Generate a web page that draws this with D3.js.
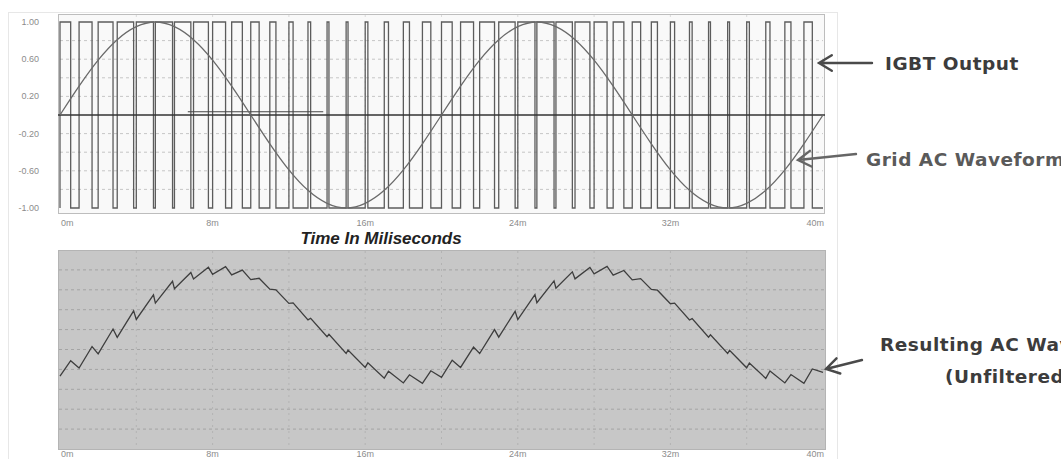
<!DOCTYPE html>
<html lang="en">
<head>
<meta charset="UTF-8">
<title>IGBT Output vs Grid AC Waveform</title>
<script src="https://cdn.jsdelivr.net/npm/d3@7"></script>
<style>
    body{ margin:0; background:#fff; }
    .ticks{ font-family:"Liberation Sans", Arial, sans-serif; font-size:9px; fill:#8c8c8c; }
    .titulo{ font-family:"Liberation Sans", Arial, sans-serif; font-weight:bold; font-style:italic; font-size:17px; fill:#222; }
    .nota{ font-family:"DejaVu Sans", Verdana, sans-serif; font-weight:bold; font-size:18.5px; fill:#3c3c3c; letter-spacing:0.5px; }
    .flecha{ stroke:#4a4a4a; stroke-width:2.4; fill:none; stroke-linecap:round; }
</style>
</head>
<body>
<div id="grafico"></div>
<script>
// ---- data ----
var tickMs = [0, 8, 16, 24, 32, 40];
var tickLabels = ["0m", "8m", "16m", "24m", "32m", "40m"];
var yTicks = [1.00, 0.60, 0.20, -0.20, -0.60, -1.00];
var yTickLabels = ["1.00", "0.60", "0.20", "-0.20", "-0.60", "-1.00"];

// grid voltage, one sample per ms (0..40)
var gridSine = [0, 0.31, 0.59, 0.81, 0.95, 1, 0.95, 0.81, 0.59, 0.31,
                0, -0.31, -0.59, -0.81, -0.95, -1, -0.95, -0.81, -0.59, -0.31,
                0, 0.31, 0.59, 0.81, 0.95, 1, 0.95, 0.81, 0.59, 0.31,
                0, -0.31, -0.59, -0.81, -0.95, -1, -0.95, -0.81, -0.59, -0.31, 0];

// IGBT output: fraction of each 1 ms period spent high
var pwmDuty = [0.56, 0.68, 0.78, 0.86, 0.90, 0.90, 0.86, 0.78, 0.68, 0.56,
               0.44, 0.32, 0.22, 0.14, 0.10, 0.10, 0.14, 0.22, 0.32, 0.44,
               0.56, 0.68, 0.78, 0.86, 0.90, 0.90, 0.86, 0.78, 0.68, 0.56,
               0.44, 0.32, 0.22, 0.14, 0.10, 0.10, 0.14, 0.22, 0.32, 0.44];

// resulting current: value at start of each period (low) and at the switch-off edge (high)
var acLow  = [3.66, 4.07, 4.78, 5.61, 6.51, 7.33, 8.05, 8.54, 8.78, 8.75,
              8.51, 8.03, 7.32, 6.49, 5.64, 4.80, 4.10, 3.56, 3.32, 3.30,
              3.60, 4.10, 4.80, 5.62, 6.50, 7.35, 8.08, 8.55, 8.80, 8.74,
              8.50, 8.02, 7.30, 6.48, 5.62, 4.80, 4.08, 3.55, 3.32, 3.30, 3.85];
var acHigh = [4.44, 5.15, 6.03, 6.94, 7.75, 8.43, 8.87, 9.13, 9.16, 8.99,
              8.58, 8.00, 7.34, 6.57, 5.76, 4.97, 4.33, 3.91, 3.73, 3.93,
              4.46, 5.12, 6.00, 6.92, 7.76, 8.45, 8.90, 9.12, 9.18, 8.97,
              8.56, 7.98, 7.33, 6.55, 5.74, 4.96, 4.32, 3.92, 3.74, 4.02];

// short raised segment seen on the top trace (ms start, ms end, level)
var markerSeg = [6.7, 13.8, 0.035];

// ---- layout ----
var w = 1061, h = 459;

var svg = d3.select("#grafico").append("svg")
    .attr("width", w).attr("height", h);

var x = d3.scaleLinear().domain([0, 40]).range([60, 823]);
var yTop = d3.scaleLinear().domain([-1, 1]).range([208, 22]);
var yBot = d3.scaleLinear().domain([0, 10]).range([449, 250]);

// outer frame
svg.append("rect")
    .attr("x", 8.5).attr("y", 12.5).attr("width", 829).attr("height", 470)
    .attr("fill", "none").attr("stroke", "#cfcfcf").attr("stroke-dasharray", "1,1");

// ---------- top plot ----------
var arriba = svg.append("g");
arriba.append("rect")
    .attr("x", x(0) - 1.5).attr("y", 14.5)
    .attr("width", x(40) - x(0) + 3).attr("height", 199)
    .attr("fill", "#f9f9f9").attr("stroke", "#bdbdbd");

// grid
arriba.selectAll(".hg").data([0.8, 0.6, 0.4, 0.2, -0.2, -0.4, -0.6, -0.8]).enter()
    .append("line")
    .attr("x1", x(0)).attr("x2", x(40))
    .attr("y1", function(d){ return yTop(d); }).attr("y2", function(d){ return yTop(d); })
    .attr("stroke", "#c6c6c6").attr("stroke-dasharray", "3,3");
arriba.selectAll(".vg").data([4, 8, 12, 16, 20, 24, 28, 32, 36]).enter()
    .append("line")
    .attr("x1", function(d){ return x(d); }).attr("x2", function(d){ return x(d); })
    .attr("y1", 15).attr("y2", 213)
    .attr("stroke", "#dadada").attr("stroke-dasharray", "2,4");

// y tick labels
arriba.selectAll(".yl").data(yTicks).enter()
    .append("text").classed("ticks", true)
    .attr("x", 39).attr("y", function(d){ return yTop(d) + 3; })
    .attr("text-anchor", "end")
    .text(function(d, i){ return yTickLabels[i]; });

// x tick labels
function xLabels(g, yPos){
    g.selectAll(".xl").data(tickMs).enter()
        .append("text").classed("ticks", true)
        .attr("x", function(d, i){ return i == 0 ? x(d) + 1 : (i == tickMs.length - 1 ? x(d) + 1 : x(d)); })
        .attr("y", yPos)
        .attr("text-anchor", function(d, i){ return i == 0 ? "start" : (i == tickMs.length - 1 ? "end" : "middle"); })
        .text(function(d, i){ return tickLabels[i]; });
}
xLabels(arriba, 226);

// PWM trace
var pwmPts = [];
pwmDuty.forEach(function(d, k){
    pwmPts.push([k, -1], [k, 1], [k + d, 1], [k + d, -1]);
});
pwmPts.push([40, -1]);
var linea = d3.line()
    .x(function(p){ return x(p[0]); })
    .y(function(p){ return yTop(p[1]); });
arriba.append("path").attr("d", linea(pwmPts))
    .attr("fill", "none").attr("stroke", "#5c5c5c").attr("stroke-width", 1.3);

// zero line + marker segment
arriba.append("line")
    .attr("x1", x(0) - 2).attr("x2", x(40) + 2)
    .attr("y1", yTop(0)).attr("y2", yTop(0))
    .attr("stroke", "#333").attr("stroke-width", 1.5);
arriba.append("line")
    .attr("x1", x(markerSeg[0])).attr("x2", x(markerSeg[1]))
    .attr("y1", yTop(markerSeg[2])).attr("y2", yTop(markerSeg[2]))
    .attr("stroke", "#444").attr("stroke-width", 1.2);

// grid sine
var senoLinea = d3.line()
    .x(function(d, i){ return x(i); })
    .y(function(d){ return yTop(d); })
    .curve(d3.curveNatural);
arriba.append("path").attr("d", senoLinea(gridSine))
    .attr("fill", "none").attr("stroke", "#6a6a6a").attr("stroke-width", 1.3);

// axis title
svg.append("text").classed("titulo", true)
    .attr("x", 381).attr("y", 244).attr("text-anchor", "middle")
    .text("Time In Miliseconds");

// ---------- bottom plot ----------
var abajo = svg.append("g");
abajo.append("rect")
    .attr("x", 58.5).attr("y", 250.5).attr("width", 767).attr("height", 199)
    .attr("fill", "#c7c7c7").attr("stroke", "#b4b4b4");
abajo.selectAll(".hg").data([1, 2, 3, 4, 5, 6, 7, 8, 9]).enter()
    .append("line")
    .attr("x1", 59).attr("x2", 825)
    .attr("y1", function(d){ return yBot(d); }).attr("y2", function(d){ return yBot(d); })
    .attr("stroke", "#a4a4a4").attr("stroke-dasharray", "3,3");
abajo.selectAll(".vg").data([4, 8, 12, 16, 20, 24, 28, 32, 36]).enter()
    .append("line")
    .attr("x1", function(d){ return x(d); }).attr("x2", function(d){ return x(d); })
    .attr("y1", 251).attr("y2", 449)
    .attr("stroke", "#b3b3b3").attr("stroke-dasharray", "2,4");
xLabels(abajo, 457);

var acPts = [];
pwmDuty.forEach(function(d, k){
    acPts.push([k, acLow[k]], [k + d, acHigh[k]]);
});
acPts.push([40, acLow[40]]);
var acLinea = d3.line()
    .x(function(p){ return x(p[0]); })
    .y(function(p){ return yBot(p[1]); });
abajo.append("path").attr("d", acLinea(acPts))
    .attr("fill", "none").attr("stroke", "#3e3e3e").attr("stroke-width", 1.3);

// ---------- annotations ----------
function flecha(x1, y1, x2, y2, color){
    var ang = Math.atan2(y1 - y2, x1 - x2), L = 15, a = 0.55;
    svg.append("path").classed("flecha", true)
        .style("stroke", color)
        .attr("d", "M" + x1 + "," + y1 + "L" + x2 + "," + y2 +
            "M" + (x2 + L * Math.cos(ang - a)) + "," + (y2 + L * Math.sin(ang - a)) +
            "L" + x2 + "," + y2 +
            "L" + (x2 + L * Math.cos(ang + a)) + "," + (y2 + L * Math.sin(ang + a)));
}
flecha(872, 63, 819, 63, "#4a4a4a");
flecha(856, 154, 798, 160, "#666");
flecha(862, 360, 826, 369, "#4a4a4a");

// labels on the right run past the page edge, as in the original
svg.append("text").classed("nota", true).attr("x", 885).attr("y", 70).text("IGBT Output");
svg.append("text").classed("nota", true).attr("x", 866).attr("y", 166).style("fill", "#5a5a5a").text("Grid AC Waveform");
svg.append("text").classed("nota", true).attr("x", 880).attr("y", 351).text("Resulting AC Waveform");
svg.append("text").classed("nota", true).attr("x", 945).attr("y", 383).text("(Unfiltered)");
</script>
</body>
</html>
